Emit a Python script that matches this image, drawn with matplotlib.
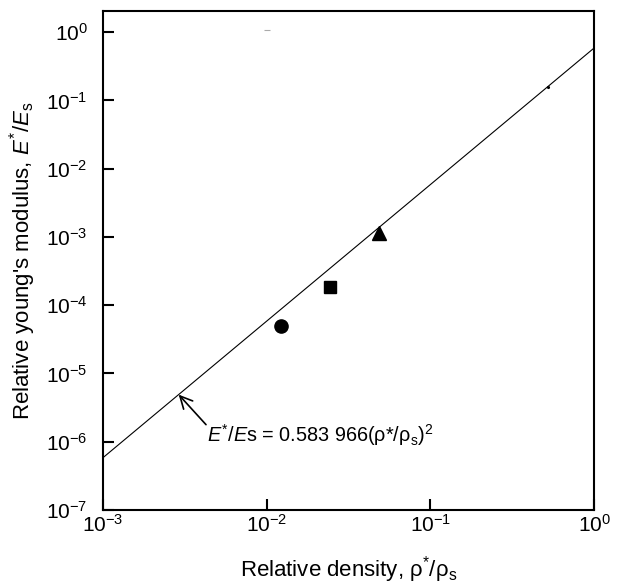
import matplotlib
matplotlib.use("Agg")
import matplotlib.pyplot as plt

plt.rcParams['font.family'] = ['Liberation Sans', 'DejaVu Sans']
plt.rcParams['mathtext.fontset'] = 'custom'
plt.rcParams['mathtext.rm'] = 'Liberation Sans'
plt.rcParams['mathtext.it'] = 'Liberation Sans:italic'
plt.rcParams['mathtext.bf'] = 'Liberation Sans:bold'

# measured foams
circle_x = [0.0122]
circle_y = [5.0e-5]
square_x = [0.0244]
square_y = [1.85e-4]
triangle_x = [0.0485]
triangle_y = [1.13e-3]
dot_x = [0.52]
dot_y = [0.157]
dash_x = [0.0101]
dash_y = [1.07]

# fitted line E*/Es = 0.583966 (rho*/rho_s)^2
fit_x = [1e-3, 1.0]
fit_y = [5.84e-7, 0.584]
arrow_tip = (2.9e-3, 4.9e-6)
arrow_tail = (4.26e-3, 1.78e-6)
eq_pos = (4.35e-3, 1.25e-6)

fig = plt.figure(figsize=(6.23, 5.84), dpi=100)
ax = fig.add_axes([0.1653, 0.1267, 0.7882, 0.8545])

ax.plot(fit_x, fit_y, color='black', lw=0.8)
ax.plot(circle_x, circle_y, 'o', color='black', ms=9.5)
ax.plot(square_x, square_y, 's', color='black', ms=8)
ax.plot(triangle_x, triangle_y, '^', color='black', ms=9.5)
ax.plot(dot_x, dot_y, '.', color='black', ms=2.5)
ax.plot(dash_x, dash_y, '_', color='#aaaaaa', ms=4, mew=0.8)

ax.annotate('', xy=arrow_tip, xytext=arrow_tail,
            arrowprops=dict(arrowstyle='->', color='black', lw=1.2,
                            mutation_scale=22, shrinkA=0, shrinkB=0))
ax.text(eq_pos[0], eq_pos[1],
        r'$\mathit{E}^{*}$/$\mathit{E}$s = 0.583 966(ρ*/ρ$_{\mathrm{s}}$)$^{2}$',
        fontsize=14.3, va='center', ha='left')

ax.set_xscale('log')
ax.set_yscale('log')
ax.set_xlim(1e-3, 1)
ax.set_ylim(1e-7, 2.04)
ax.set_xticks([1e-3, 1e-2, 1e-1, 1])
ax.set_yticks([1e-7, 1e-6, 1e-5, 1e-4, 1e-3, 1e-2, 1e-1, 1])
ax.minorticks_off()
ax.tick_params(direction='in', length=8, width=1.5, labelsize=15)
ax.tick_params(axis='x', pad=3)
ax.tick_params(axis='y', pad=11)
for s in ax.spines.values():
    s.set_linewidth(1.5)

ax.set_xlabel(r'Relative density, ρ$^{*}$/ρ$_{\mathrm{s}}$', fontsize=16, labelpad=13)
ax.set_ylabel(r"Relative young's modulus, $\mathit{E}^{*}/\mathit{E}_{\mathrm{s}}$",
              fontsize=16, labelpad=6)

fig.savefig('out.png', dpi=100)
